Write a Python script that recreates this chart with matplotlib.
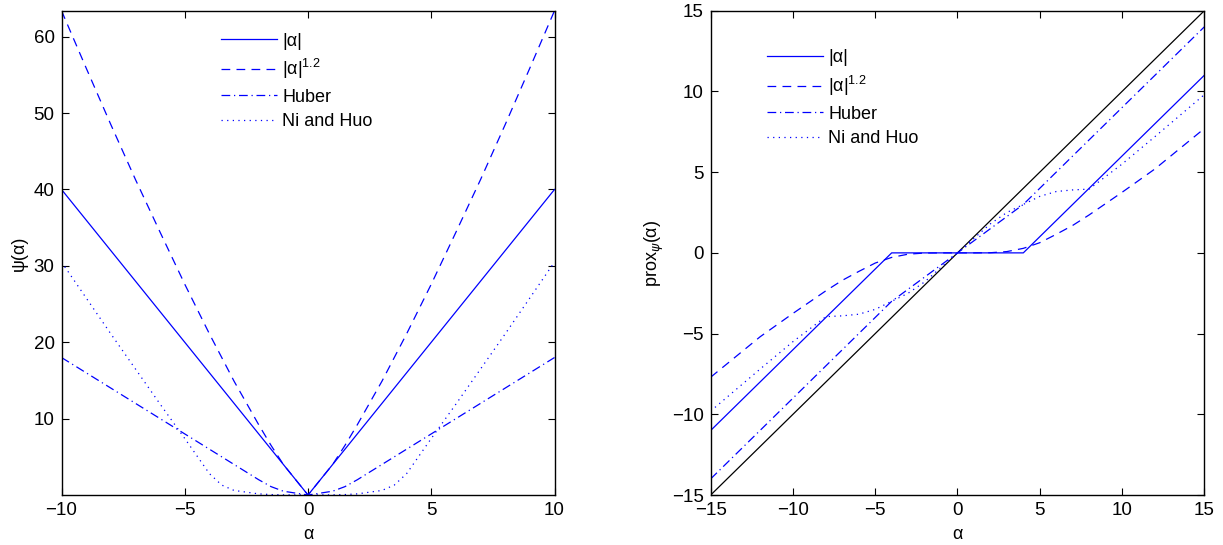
import matplotlib.pyplot as plt

plt.rcParams['font.family'] = ['Liberation Sans', 'DejaVu Sans']
plt.rcParams['mathtext.fontset'] = 'custom'
plt.rcParams['mathtext.rm'] = 'Liberation Sans'

# ---- left panel: penalties psi(alpha) ----
alpha_l = [-10, -9, -8, -7, -6, -5, -4, -3.5, -3, -2, -1.5, -1, 0,
           1, 1.5, 2, 3, 3.5, 4, 5, 6, 7, 8, 9, 10]
psi_abs = [40, 36, 32, 28, 24, 20, 16, 14, 12, 8, 6, 4, 0,
           4, 6, 8, 12, 14, 16, 20, 24, 28, 32, 36, 40]
psi_pow = [63.4, 55.9, 48.5, 41.3, 34.4, 27.6, 21.1, 18.0, 14.9, 9.2, 6.5, 4.0, 0,
           4.0, 6.5, 9.2, 14.9, 18.0, 21.1, 27.6, 34.4, 41.3, 48.5, 55.9, 63.4]
psi_huber = [18, 16, 14, 12, 10, 8, 6, 5, 4, 2, 1.1, 0.5, 0,
             0.5, 1.1, 2, 4, 5, 6, 8, 10, 12, 14, 16, 18]
psi_nihuo = [30.5, 25.8, 21.1, 16.5, 11.9, 7.4, 2.8, 1.3, 0.6, 0.15, 0.06, 0.02, 0,
             0.02, 0.06, 0.15, 0.6, 1.3, 2.8, 7.4, 11.9, 16.5, 21.1, 25.8, 30.5]

# ---- right panel: proximity operators ----
alpha_r = [-15, -12, -10, -8, -7, -6, -5, -4, -3, -2, -1, 0,
           1, 2, 3, 4, 5, 6, 7, 8, 10, 12, 15]
prox_abs = [-11, -8, -6, -4, -3, -2, -1, 0, 0, 0, 0, 0,
            0, 0, 0, 0, 1, 2, 3, 4, 6, 8, 11]
prox_pow = [-7.7, -5.2, -3.75, -2.35, -1.7, -1.15, -0.63, -0.28, -0.08, -0.01, 0, 0,
            0, 0.01, 0.08, 0.28, 0.63, 1.15, 1.7, 2.35, 3.75, 5.2, 7.7]
prox_huber = [-14, -11, -9, -7, -6, -5, -4, -3, -2.25, -1.5, -0.75, 0,
              0.75, 1.5, 2.25, 3, 4, 5, 6, 7, 9, 11, 14]
prox_nihuo = [-9.8, -7.2, -5.5, -3.95, -3.9, -3.8, -3.5, -3.0, -2.5, -1.8, -0.9, 0,
              0.9, 1.8, 2.5, 3.0, 3.5, 3.8, 3.9, 3.95, 5.5, 7.2, 9.8]
ident = [-15, 15]

labels = ['|α|', '|α|$^{1.2}$', 'Huber', 'Ni and Huo']
blue = (0, 0, 1)
lw = 0.9
styles = dict(
    abs=dict(ls='-'),
    pow=dict(ls=(0, (7, 5))),
    huber=dict(ls=(0, (7, 3, 1, 3))),
    nihuo=dict(ls=(0, (1, 3.5))),
)
leg_kw = dict(loc='upper left', frameon=False, fontsize=13, handlelength=3.1,
              handletextpad=0.3, labelspacing=0.42, borderpad=0, borderaxespad=0)

fig = plt.figure(figsize=(12.23, 5.45), dpi=100)
ax1 = fig.add_axes([0.0503, 0.0917, 0.4031, 0.8886])
ax2 = fig.add_axes([0.5811, 0.0917, 0.4036, 0.8886])

ax1.plot(alpha_l, psi_abs, color=blue, lw=lw, **styles['abs'], label=labels[0])
ax1.plot(alpha_l, psi_pow, color=blue, lw=lw, **styles['pow'], label=labels[1])
ax1.plot(alpha_l, psi_huber, color=blue, lw=lw, **styles['huber'], label=labels[2])
ax1.plot(alpha_l, psi_nihuo, color=blue, lw=lw, **styles['nihuo'], label=labels[3])
ax1.set_xlim(-10, 10)
ax1.set_ylim(0, 63.4)
ax1.set_xticks([-10, -5, 0, 5, 10])
ax1.set_xticklabels(['\u221210', '\u22125', '0', '5', '10'])
ax1.set_yticks([10, 20, 30, 40, 50, 60])
ax1.set_xlabel('α', fontsize=13, labelpad=5)
ax1.set_ylabel('ψ(α)', fontsize=13, labelpad=4)
ax1.legend(bbox_to_anchor=(0.3235, 0.955), **leg_kw)

ax2.plot(ident, ident, color='k', lw=lw)
ax2.plot(alpha_r, prox_abs, color=blue, lw=lw, **styles['abs'], label=labels[0])
ax2.plot(alpha_r, prox_pow, color=blue, lw=lw, **styles['pow'], label=labels[1])
ax2.plot(alpha_r, prox_huber, color=blue, lw=lw, **styles['huber'], label=labels[2])
ax2.plot(alpha_r, prox_nihuo, color=blue, lw=lw, **styles['nihuo'], label=labels[3])
ax2.set_xlim(-15, 15)
ax2.set_ylim(-15, 15)
ticks_r = [-15, -10, -5, 0, 5, 10, 15]
tick_lbls = ['\u221215', '\u221210', '\u22125', '0', '5', '10', '15']
ax2.set_xticks(ticks_r)
ax2.set_xticklabels(tick_lbls)
ax2.set_yticks(ticks_r)
ax2.set_yticklabels(tick_lbls)
ax2.set_xlabel('α', fontsize=13, labelpad=5)
ax2.set_ylabel('prox$_{ψ}$(α)', fontsize=13, labelpad=4)
ax2.legend(bbox_to_anchor=(0.114, 0.92), **leg_kw)

for ax in (ax1, ax2):
    ax.tick_params(direction='in', length=5, width=0.8, top=True, right=True,
                   labelsize=13.5, pad=5)
    for s in ax.spines.values():
        s.set_linewidth(1.0)

fig.savefig('out.png', dpi=100)
